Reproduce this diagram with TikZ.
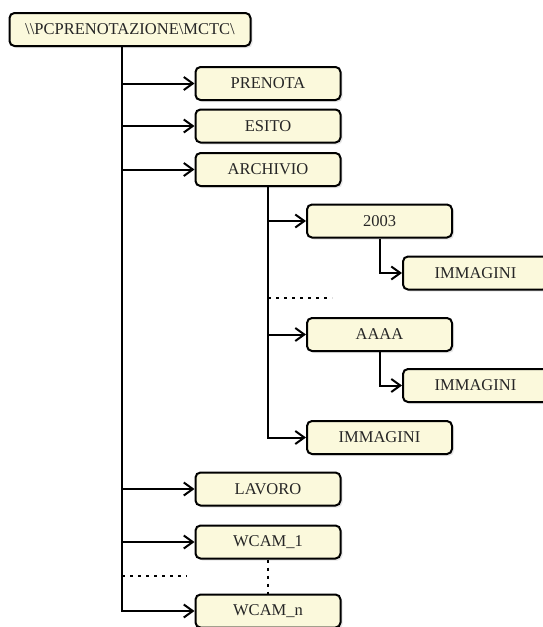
\documentclass[tikz,border=0pt]{standalone}
\usepackage{tikz}
\usepackage{fontspec}
\setmainfont{Liberation Serif}
\usetikzlibrary{positioning,calc}
\usetikzlibrary{arrows.meta,shadows}

\definecolor{boxfill}{RGB}{251,249,220}

\begin{document}
\begin{tikzpicture}[x=1pt,y=-1pt,->,>={Straight Barb[length=9pt,width=13pt,line width=2pt]},
    line width=2pt]
            \tikzstyle{every node}=[font=\fontsize{16.5}{18}\selectfont, text=black!85]
            \tikzstyle{dir}=[draw, fill=boxfill, rounded corners=5pt, line width=2pt,
            minimum width=145pt, minimum height=33pt, inner sep=0pt,
            drop shadow={shadow xshift=2pt, shadow yshift=-2pt, opacity=0.2}]
            \tikzstyle{elbow}=[to path={|- (\tikztotarget)}]
            \tikzstyle{dots}=[-, dash pattern=on 3pt off 5pt]
            \useasboundingbox (0,0) rectangle (542,627);
            % root
            %    prenota / esito / archivio
            %        2003 -> immagini, AAAA -> immagini, immagini
            %    lavoro / wcam_1 ... wcam_n
            \node[dir, minimum width=241pt] (root) at (130,29.5) {\textbackslash\textbackslash PCPRENOTAZIONE\textbackslash MCTC\textbackslash};
            \node[dir] (prenota) at (268,83.5)  {PRENOTA};
            \node[dir] (esito) at (268,126)     {ESITO};
            \node[dir] (archivio) at (268,169.5) {ARCHIVIO};
            \node[dir] (y2003) at (379.5,221)   {2003};
            \node[dir] (img1) at (475.5,273)    {IMMAGINI};
            \node[dir] (yaaaa) at (379.5,334.5) {AAAA};
            \node[dir] (img2) at (475.5,385.5)  {IMMAGINI};
            \node[dir] (img3) at (379.5,437.5)  {IMMAGINI};
            \node[dir] (lavoro) at (268,489)    {LAVORO};
            \node[dir] (wcam1) at (268,542)     {WCAM\_1};
            \node[dir] (wcamn) at (268,611)     {WCAM\_n};
            \coordinate (trunk) at ([xshift=-8pt]root.south);
            \coordinate (gap1) at (332,298);
            \coordinate (gap2) at (187,576);
            \path (trunk) edge[elbow] (prenota)
                  (trunk) edge[elbow] (esito)
                  (trunk) edge[elbow] (archivio)
                  (trunk) edge[elbow] (lavoro)
                  (trunk) edge[elbow] (wcam1)
                  (trunk) edge[elbow] (wcamn);
            \path (archivio.south) edge[elbow] (y2003)
                  (archivio.south) edge[elbow] (yaaaa)
                  (archivio.south) edge[elbow] (img3);
            \path (y2003.south) edge[elbow] (img1)
                  (yaaaa.south) edge[elbow] (img2);
            \draw[dots] (archivio.south |- gap1) -- (gap1);
            \draw[dots] (trunk |- gap2) -- (gap2);
            \draw[dots] (wcam1.south) -- (wcamn.north);

\end{tikzpicture}
\end{document}
